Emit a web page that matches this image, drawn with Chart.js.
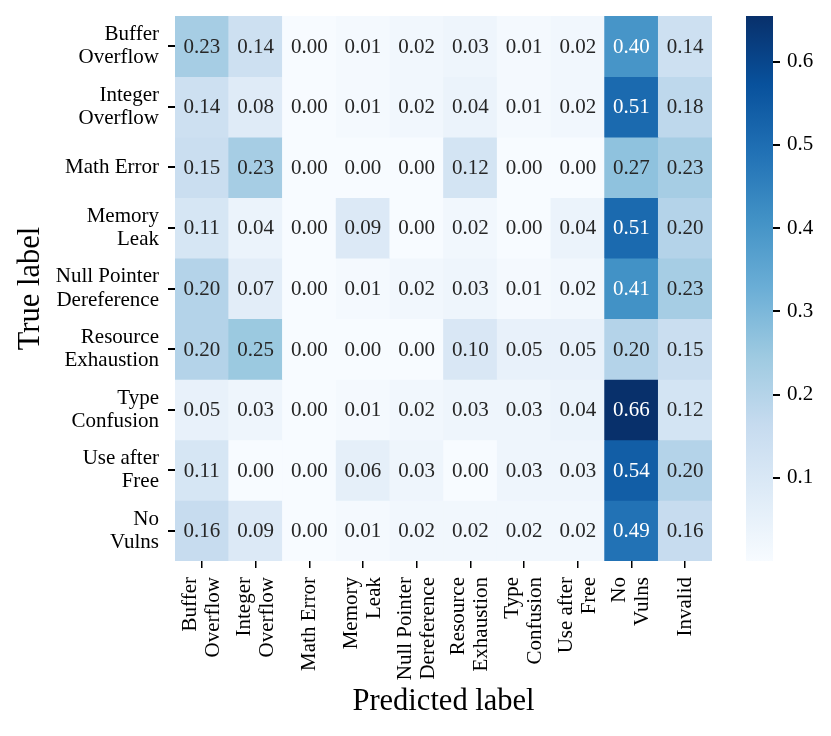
<!DOCTYPE html>
<html>
<head>
<meta charset="utf-8">
<script src="https://cdn.jsdelivr.net/npm/chart.js@4.4.1/dist/chart.umd.min.js"></script>
<style>
  body { margin: 0; background: #fff; }
  #wrap { position: relative; width: 831px; height: 736px; }
  canvas { position: absolute; top: 0; }
</style>
</head>
<body>
<div id="wrap">
  <canvas id="heat" width="831" height="736" style="left:0"></canvas>
  <canvas id="cbar" width="91" height="736" style="left:740px"></canvas>
</div>
<script>
Chart.defaults.font.family = '"Liberation Serif", "Times New Roman", serif';
Chart.defaults.color = "#000";

// rows = true label, columns = predicted label
const yTickLabels = [
  ["Buffer", "Overflow"], ["Integer", "Overflow"], "Math Error", ["Memory", "Leak"],
  ["Null Pointer", "Dereference"], ["Resource", "Exhaustion"], ["Type", "Confusion"],
  ["Use after", "Free"], ["No", "Vulns"],
];
const xTickLabels = [
  ["Buffer", "Overflow"], ["Integer", "Overflow"], "Math Error", ["Memory", "Leak"],
  ["Null Pointer", "Dereference"], ["Resource", "Exhaustion"], ["Type", "Confusion"],
  ["Use after", "Free"], ["No", "Vulns"], "Invalid",
];

const bufferOverflow   = [0.23, 0.14, 0.00, 0.01, 0.02, 0.03, 0.01, 0.02, 0.40, 0.14];
const integerOverflow  = [0.14, 0.08, 0.00, 0.01, 0.02, 0.04, 0.01, 0.02, 0.51, 0.18];
const mathError        = [0.15, 0.23, 0.00, 0.00, 0.00, 0.12, 0.00, 0.00, 0.27, 0.23];
const memoryLeak       = [0.11, 0.04, 0.00, 0.09, 0.00, 0.02, 0.00, 0.04, 0.51, 0.20];
const nullPointer      = [0.20, 0.07, 0.00, 0.01, 0.02, 0.03, 0.01, 0.02, 0.41, 0.23];
const resourceExhaust  = [0.20, 0.25, 0.00, 0.00, 0.00, 0.10, 0.05, 0.05, 0.20, 0.15];
const typeConfusion    = [0.05, 0.03, 0.00, 0.01, 0.02, 0.03, 0.03, 0.04, 0.66, 0.12];
const useAfterFree     = [0.11, 0.00, 0.00, 0.06, 0.03, 0.00, 0.03, 0.03, 0.54, 0.20];
const noVulns          = [0.16, 0.09, 0.00, 0.01, 0.02, 0.02, 0.02, 0.02, 0.49, 0.16];

const rows = [bufferOverflow, integerOverflow, mathError, memoryLeak, nullPointer,
  resourceExhaust, typeConfusion, useAfterFree, noVulns];

const cbarTicks = [0.1, 0.2, 0.3, 0.4, 0.5, 0.6];
const vmin = 0;
const vmax = 0.655;

// matplotlib "Blues"
const bluesStops = ["#f7fbff", "#deebf7", "#c6dbef", "#9ecae1", "#6baed6",
  "#4292c6", "#2171b5", "#08519c", "#08306b"];

function hexToRgb(h) {
  return [1, 3, 5].map(i => parseInt(h.slice(i, i + 2), 16));
}
function bluesRgb(v) {
  let t = (v - vmin) / (vmax - vmin);
  t = Math.max(0, Math.min(1, t));
  const pos = t * 8;
  const i = Math.min(7, Math.floor(pos));
  const f = pos - i;
  const a = hexToRgb(bluesStops[i]), b = hexToRgb(bluesStops[i + 1]);
  return a.map((c, k) => c + (b[k] - c) * f);
}
function blues(v) {
  const [r, g, b] = bluesRgb(v).map(Math.round);
  return `rgb(${r},${g},${b})`;
}
// seaborn picks annotation colour from luminance of the cell
function textColor(v) {
  const lin = bluesRgb(v).map(c => {
    c /= 255;
    return c <= 0.03928 ? c / 12.92 : Math.pow((c + 0.055) / 1.055, 2.4);
  });
  const lum = 0.2126 * lin[0] + 0.7152 * lin[1] + 0.0722 * lin[2];
  return lum > 0.408 ? "#262626" : "#fff";
}

const labelFont = { size: 21, lineHeight: 1.1 };
const titleFont = { size: 30.5 };
const tickGrid = { drawOnChartArea: false, drawTicks: true, tickLength: 7, color: "#000", lineWidth: 1.5 };

const annotate = {
  id: "annotate",
  afterDatasetsDraw(chart) {
    const { ctx, scales: { x, y } } = chart;
    ctx.save();
    ctx.font = '21px "Liberation Serif"';
    ctx.textAlign = "center";
    ctx.textBaseline = "middle";
    rows.forEach((vals, r) => vals.forEach((v, c) => {
      ctx.fillStyle = textColor(v);
      ctx.fillText(v.toFixed(2), x.getPixelForValue(c), y.getPixelForValue(r + 0.5) + 1);
    }));
    ctx.restore();
  },
};

// rotated x labels, centred on the tick like matplotlib does
const xLabels = {
  id: "xlabels",
  afterDraw(chart) {
    const { ctx, chartArea, scales: { x } } = chart;
    ctx.save();
    ctx.font = '21px "Liberation Serif"';
    ctx.fillStyle = "#000";
    ctx.textAlign = "right";
    ctx.textBaseline = "middle";
    xTickLabels.forEach((lab, i) => {
      const lines = [].concat(lab);
      ctx.save();
      ctx.translate(x.getPixelForValue(i), chartArea.bottom + 16);
      ctx.rotate(-Math.PI / 2);
      lines.forEach((ln, j) => ctx.fillText(ln, 0, (j - (lines.length - 1) / 2) * 23));
      ctx.restore();
    });
    ctx.restore();
  },
};

new Chart(document.getElementById("heat"), {
  type: "bar",
  data: {
    labels: xTickLabels.map(l => [].concat(l).join(" ")),
    datasets: rows.map((vals, r) => ({
      data: vals.map(() => [r, r + 1]),
      backgroundColor: vals.map(blues),
      grouped: false,
      barPercentage: 1,
      categoryPercentage: 1,
      borderWidth: 0,
    })),
  },
  options: {
    responsive: false,
    animation: false,
    layout: { padding: { left: 9, right: 119, top: 16, bottom: 12 } },
    plugins: { legend: { display: false }, tooltip: { enabled: false } },
    scales: {
      x: {
        afterFit: s => { s.height = 163; s.paddingLeft = 0; s.paddingRight = 0; },
        grid: { ...tickGrid, offset: false },
        border: { display: false },
        ticks: { display: false },
        title: { display: true, text: "Predicted label", font: titleFont, padding: 4 },
      },
      y: {
        min: 0,
        max: 9,
        reverse: true,
        afterBuildTicks: s => { s.ticks = yTickLabels.map((_, r) => ({ value: r + 0.5 })); },
        afterFit: s => { s.width = 166; s.paddingTop = 0; s.paddingBottom = 0; },
        grid: { ...tickGrid, lineWidth: 2 },
        border: { display: false },
        ticks: {
          padding: 9,
          font: labelFont,
          autoSkip: false,
          callback: v => yTickLabels[Math.floor(v)],
        },
        title: { display: true, text: "True label", font: titleFont, padding: 4 },
      },
    },
  },
  plugins: [annotate, xLabels],
});

new Chart(document.getElementById("cbar"), {
  type: "bar",
  data: {
    labels: [""],
    datasets: [{
      data: [[vmin, vmax]],
      backgroundColor: c => {
        const y = c.chart.scales.y;
        if (!c.chart.chartArea || !y) return bluesStops[4];
        const g = c.chart.ctx.createLinearGradient(0, y.getPixelForValue(vmin), 0, y.getPixelForValue(vmax));
        bluesStops.forEach((col, i) => g.addColorStop(i / 8, col));
        return g;
      },
      barPercentage: 1,
      categoryPercentage: 1,
      borderWidth: 0,
    }],
  },
  options: {
    responsive: false,
    animation: false,
    layout: { padding: { left: 6, right: 8, top: 16, bottom: 175 } },
    plugins: { legend: { display: false }, tooltip: { enabled: false } },
    scales: {
      x: { display: false },
      y: {
        position: "right",
        min: vmin,
        max: vmax,
        afterBuildTicks: s => { s.ticks = cbarTicks.map(v => ({ value: v })); },
        afterFit: s => { s.width = 50; s.paddingTop = 0; s.paddingBottom = 0; },
        grid: { ...tickGrid, lineWidth: 2 },
        border: { display: false },
        ticks: { padding: 7, font: labelFont, callback: v => v.toFixed(1) },
      },
    },
  },
});
</script>
</body>
</html>
